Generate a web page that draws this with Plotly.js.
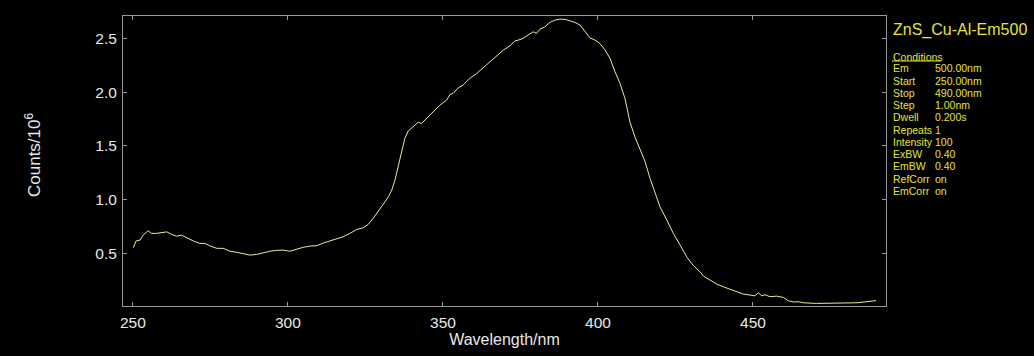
<!DOCTYPE html>
<html>
<head>
<meta charset="utf-8">
<script src="https://cdn.plot.ly/plotly-3.0.1.min.js"></script>
<style>html,body{margin:0;padding:0;background:#000;}#chart{width:1034px;height:356px;}</style>
</head>
<body>
<div id="chart"></div>
<script>
var wavelength = [250.1,251,252.3,253.3,254.9,256,257.6,259.3,260.9,262.5,264.1,265.7,267.3,269.5,271.6,273.2,274.8,277,279.1,281.3,283.5,285.6,287.7,289.9,292,294.2,296.4,298.5,300.6,302.8,304.9,307.1,309.3,311.4,313.5,315.7,317.8,320,322.2,324.3,325.9,327.5,329.1,330.7,332.4,333.5,334.5,335.6,336.7,337.7,338.8,340.4,342,343.1,344.7,346.9,349,351.2,352.3,353.3,354.9,356.5,358.7,360.9,363,365.2,367.3,369.5,371.6,373.2,375.4,377.5,379.1,380.2,381.3,382.9,384.5,386.1,387.7,389.4,391,392.6,394.2,395.8,397.4,399,400.6,402.3,403.9,405.5,407.1,408.7,410.3,411.9,413.5,415.2,416.8,418.4,420,422.2,424.3,426.5,428.6,430.8,432.9,434,436.1,438.3,440.4,442.6,444.7,446.9,449,450.6,451.7,452.8,453.9,455.5,457.6,459.8,461.4,463,464.6,466.2,470.5,474.8,479.1,483.5,486.7,489.7];
var counts = [0.552,0.615,0.624,0.67,0.71,0.686,0.686,0.695,0.70,0.677,0.66,0.67,0.645,0.615,0.593,0.593,0.571,0.547,0.547,0.52,0.51,0.494,0.484,0.49,0.506,0.52,0.528,0.53,0.52,0.54,0.556,0.568,0.571,0.596,0.615,0.633,0.655,0.686,0.723,0.738,0.77,0.826,0.887,0.956,1.027,1.09,1.18,1.306,1.446,1.57,1.64,1.68,1.72,1.71,1.757,1.82,1.88,1.927,1.98,1.99,2.04,2.067,2.13,2.176,2.228,2.284,2.34,2.393,2.433,2.477,2.495,2.533,2.563,2.548,2.588,2.61,2.65,2.672,2.68,2.679,2.663,2.65,2.626,2.563,2.507,2.486,2.455,2.393,2.315,2.19,2.083,1.943,1.725,1.586,1.478,1.353,1.198,1.059,0.934,0.81,0.686,0.577,0.468,0.385,0.329,0.289,0.251,0.214,0.189,0.165,0.142,0.121,0.112,0.105,0.133,0.105,0.115,0.096,0.102,0.09,0.059,0.047,0.05,0.04,0.034,0.034,0.034,0.04,0.05,0.06];
var yTicks = [0.5,1.0,1.5,2.0,2.5];
var xTicks = [250,300,350,400,450];
var sampleName = "ZnS_Cu-Al-Em500";
var conditionsHeader = "Conditions";
var conditionLabels = ["Em","Start","Stop","Step","Dwell","Repeats","Intensity","ExBW","EmBW","RefCorr","EmCorr"];
var conditionValues = ["500.00nm","250.00nm","490.00nm","1.00nm","0.200s","1","100","0.40","0.40","on","on"];

var FONT = "Arial, 'Liberation Sans', sans-serif";
var TXT = "#e4e43c";
var plotL = 123, plotT = 16, plotW = 763, plotH = 290;
function px(x){return (x-plotL)/plotW;}
function py(y){return (plotT+plotH-y)/plotH;}

var annotations = [];
annotations.push({xref:'paper',yref:'paper',x:px(33),y:py(155),text:'Counts/10<sup>6</sup>',textangle:-90,showarrow:false,xanchor:'center',yanchor:'middle',font:{family:FONT,size:17,color:'#e8e8e8'}});
annotations.push({xref:'paper',yref:'paper',x:px(891),y:py(30),text:sampleName,showarrow:false,xanchor:'left',yanchor:'middle',font:{family:FONT,size:16,color:TXT}});
annotations.push({xref:'paper',yref:'paper',x:px(891),y:py(56.5),text:conditionsHeader,showarrow:false,xanchor:'left',yanchor:'middle',font:{family:FONT,size:10.5,color:TXT}});
for (var i=0;i<conditionLabels.length;i++){
  var yy = 68.3 + i*12.27;
  annotations.push({xref:'paper',yref:'paper',x:px(891),y:py(yy),text:conditionLabels[i],showarrow:false,xanchor:'left',yanchor:'middle',font:{family:FONT,size:10.5,color:TXT}});
  annotations.push({xref:'paper',yref:'paper',x:px(932.5),y:py(yy),text:conditionValues[i],showarrow:false,xanchor:'left',yanchor:'middle',font:{family:FONT,size:10.5,color:TXT}});
}
var shapes = [{type:'line',xref:'paper',yref:'paper',x0:px(892),x1:px(941),y0:py(61),y1:py(61),line:{color:TXT,width:1}}];

var trace = {x:wavelength,y:counts,type:'scatter',mode:'lines',line:{color:'#ecec9c',width:1},hoverinfo:'skip'};
var axisCommon = {showline:true,mirror:'ticks',linecolor:'#9a9a9a',linewidth:1,ticks:'inside',ticklen:4,tickcolor:'#9a9a9a',showgrid:false,zeroline:false,tickfont:{family:FONT,size:15.5,color:'#e8e8e8'}};
var layout = {
  width:1034,height:356,
  margin:{l:plotL,r:1034-plotL-plotW,t:plotT,b:356-plotT-plotH},
  paper_bgcolor:'#000',plot_bgcolor:'#000',
  showlegend:false,
  xaxis:Object.assign({},axisCommon,{range:[246.8,492.9],tickmode:'array',tickvals:xTicks,ticktext:xTicks.map(String),ticklabelstandoff:2,
    title:{text:'Wavelength/nm',font:{family:FONT,size:16,color:'#e8e8e8'},standoff:4}}),
  yaxis:Object.assign({},axisCommon,{range:[0.01,2.71],tickmode:'array',tickvals:yTicks,ticktext:yTicks.map(function(v){return v.toFixed(1);}),ticklabelstandoff:2}),
  annotations:annotations,shapes:shapes
};
Plotly.newPlot('chart',[trace],layout,{displayModeBar:false,staticPlot:true});
</script>
</body>
</html>
